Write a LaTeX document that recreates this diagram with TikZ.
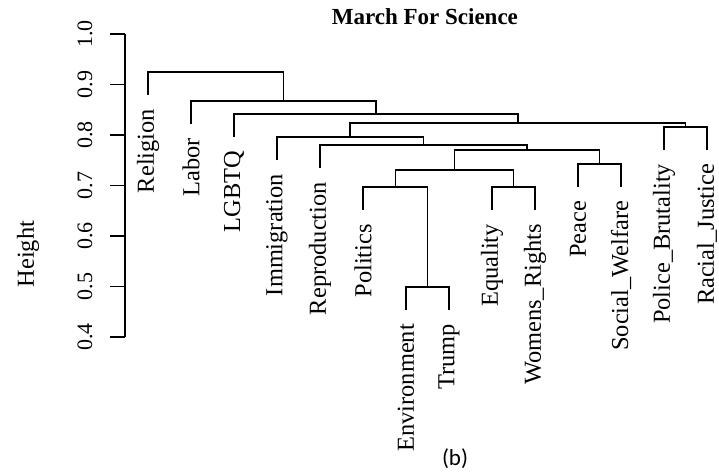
\documentclass[tikz,border=0pt]{standalone}
\usepackage{fontspec}
\setmainfont{Liberation Serif}
\newfontfamily\sansb{Carlito}
\tikzset{
  rama/.style={line width=0.75pt},
  etiqueta/.style={rotate=90, anchor=east, inner sep=0pt, inner xsep=7pt,
    font=\fontsize{12.2}{14}\selectfont},
  numeros/.style={rotate=90, inner sep=0pt, font=\fontsize{11}{13}\selectfont},
}
\begin{document}
\begin{tikzpicture}[x=21.5pt, y=252.5pt]
    \useasboundingbox (-2.4419,0.1267) rectangle (14.279,1.0673);

    % Titulo
    \node[font=\bfseries\fontsize{11.5}{13}\selectfont] (titulo) at (7.44,1.034) {March For Science};

    % Eje vertical
    \draw[rama] (0.465,0.4) -- (0.465,1.0);
    \foreach \y in {0.4,0.5,0.6,0.7,0.8,0.9,1.0} {
        \draw[rama] (0.465,\y) -- (0.116,\y);
        \node[numeros] at (-0.465,\y) {\y};
    }
    \node[rotate=90, font=\fontsize{12.2}{14}\selectfont] (altura) at (-1.79,0.564) {Height};

    % Extremos de las hojas
    \coordinate (h1) at (1,0.880);
    \coordinate (h2) at (2,0.822);
    \coordinate (h3) at (3,0.797);
    \coordinate (h4) at (4,0.751);
    \coordinate (h5) at (5,0.735);
    \coordinate (h6) at (6,0.652);
    \coordinate (h7) at (7,0.454);
    \coordinate (h8) at (8,0.454);
    \coordinate (h9) at (9,0.652);
    \coordinate (h10) at (10,0.652);
    \coordinate (h11) at (11,0.698);
    \coordinate (h12) at (12,0.698);
    \coordinate (h13) at (13,0.771);
    \coordinate (h14) at (14,0.771);

    % Uniones
    \coordinate (m1) at (7.5,0.499);     % Environment - Trump
    \coordinate (m2) at (6.75,0.697);    % Politics
    \coordinate (m3) at (9.5,0.697);     % Equality - Womens_Rights
    \coordinate (m4) at (8.125,0.731);
    \coordinate (m5) at (11.5,0.743);    % Peace - Social_Welfare
    \coordinate (m6) at (9.8125,0.770);
    \coordinate (m7) at (7.406,0.780);   % Reproduction
    \coordinate (m8) at (5.703,0.796);   % Immigration
    \coordinate (m9) at (13.5,0.816);    % Police_Brutality - Racial_Justice
    \coordinate (m10) at (9.602,0.824);
    \coordinate (m11) at (6.301,0.842);  % LGBTQ
    \coordinate (m12) at (4.15,0.867);   % Labor
    \coordinate (m13) at (2.575,0.925);  % Religion

    % Ramas
    \draw[rama] (h7) |- (m1) -| (h8);
    \draw[rama] (h6) |- (m2) -| (m1);
    \draw[rama] (h9) |- (m3) -| (h10);
    \draw[rama] (m2) |- (m4) -| (m3);
    \draw[rama] (h11) |- (m5) -| (h12);
    \draw[rama] (m4) |- (m6) -| (m5);
    \draw[rama] (h5) |- (m7) -| (m6);
    \draw[rama] (h4) |- (m8) -| (m7);
    \draw[rama] (h13) |- (m9) -| (h14);
    \draw[rama] (m8) |- (m10) -| (m9);
    \draw[rama] (h3) |- (m11) -| (m10);
    \draw[rama] (h2) |- (m12) -| (m11);
    \draw[rama] (h1) |- (m13) -| (m12);

    % Etiquetas de las hojas
    \foreach \i/\t in {1/Religion, 2/Labor, 3/LGBTQ, 4/Immigration, 5/Reproduction,
        6/Politics, 7/Environment, 8/Trump, 9/Equality, 10/Womens\_Rights,
        11/Peace, 12/Social\_Welfare, 13/Police\_Brutality, 14/Racial\_Justice}
        \node[etiqueta] (e\i) at (h\i) {\t};

    % Subtitulo
    \node[font=\sansb\fontsize{11.5}{13}\selectfont] (sub) at (8.14,0.160) {(b)};
\end{tikzpicture}
\end{document}
